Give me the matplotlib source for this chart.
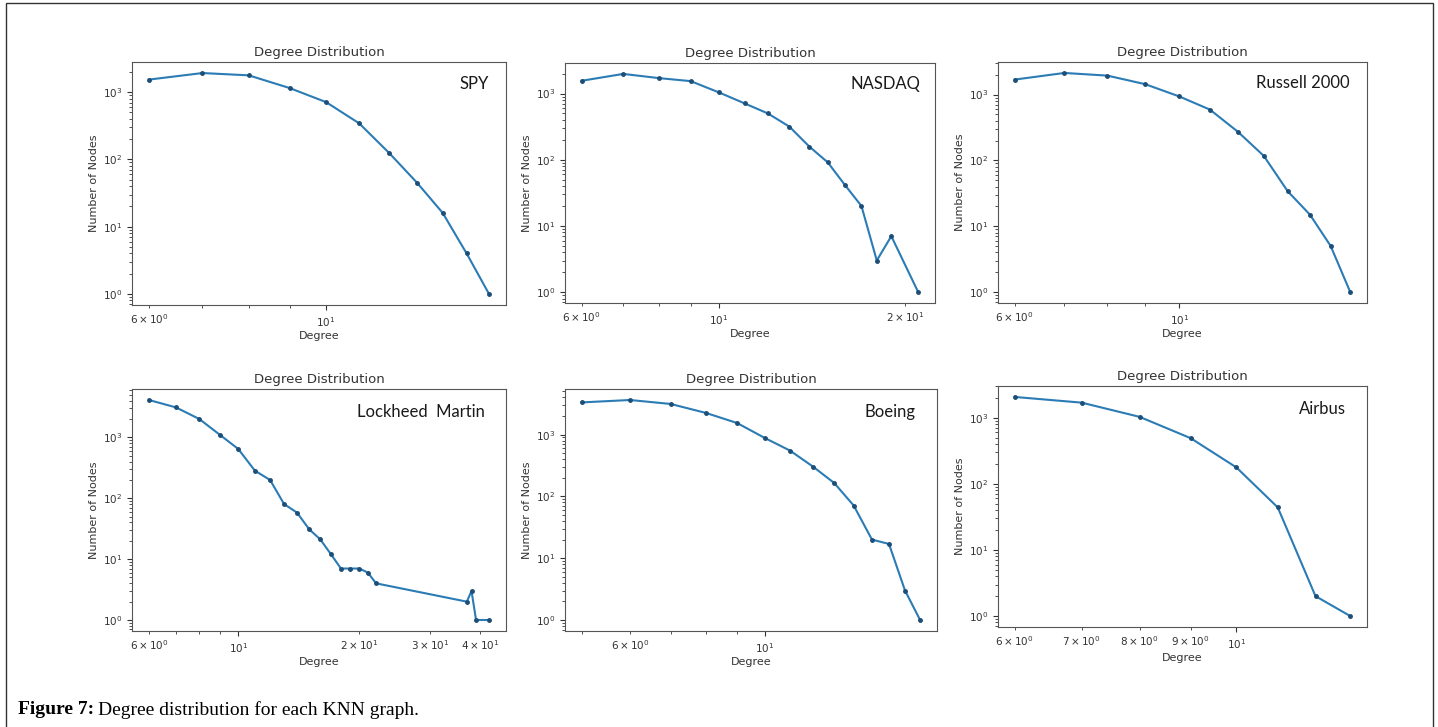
import matplotlib.pyplot as plt
from matplotlib.patches import Rectangle

# %% DATA
spy_deg = [6, 7, 8, 9, 10, 11, 12, 13, 14, 15, 16]
spy_nodes = [1535, 1920, 1775, 1150, 710, 344, 124, 45, 16, 4, 1]

nasdaq_deg = [6, 7, 8, 9, 10, 11, 12, 13, 14, 15, 16, 17, 18, 19, 21]
nasdaq_nodes = [1560, 1980, 1710, 1540, 1040, 710, 500, 316, 158, 91, 41, 20, 3, 7, 1]

russell_deg = [6, 7, 8, 9, 10, 11, 12, 13, 14, 15, 16, 17]
russell_nodes = [1690, 2130, 1940, 1436, 936, 590, 271, 117, 34, 15, 5, 1]

lockheed_deg = [6, 7, 8, 9, 10, 11, 12, 13, 14, 15, 16, 17, 18, 19, 20, 21, 22, 37, 38, 39, 42]
lockheed_nodes = [4100, 3100, 2000, 1100, 643, 283, 199, 80, 58, 31, 21, 12, 7, 7, 7, 6, 4, 2, 3, 1, 1]

boeing_deg = [5, 6, 7, 8, 9, 10, 11, 12, 13, 14, 15, 16, 17, 18]
boeing_nodes = [3320, 3630, 3130, 2240, 1540, 880, 550, 303, 165, 71, 20, 17, 3, 1]

airbus_deg = [6, 7, 8, 9, 10, 11, 12, 13]
airbus_nodes = [2060, 1690, 1030, 490, 177, 44, 2, 1]

names = ["SPY", "NASDAQ", "Russell 2000", "Lockheed  Martin", "Boeing", "Airbus"]
degrees = [spy_deg, nasdaq_deg, russell_deg, lockheed_deg, boeing_deg, airbus_deg]
counts = [spy_nodes, nasdaq_nodes, russell_nodes, lockheed_nodes, boeing_nodes, airbus_nodes]

# %% LAYOUT (pixel boxes of each axes: left, right, top, bottom)
W, H = 1438, 727
boxes = [
    (132, 506, 62, 305),
    (565, 935, 63, 303),
    (998, 1367, 62, 303),
    (132, 506, 389, 631),
    (565, 937, 389, 631),
    (998, 1367, 386, 627),
]
# where the name labels sit (pixels)
label_pos = [(460, 84), (851, 84), (1256, 83), (357, 412), (865, 412), (1299, 409)]

fig = plt.figure(figsize=(W / 100, H / 100), dpi=100)

# outer frame of the figure panel
fig.patches.append(Rectangle((6 / W, -0.01), (1433 - 6) / W, 1 - 3 / H + 0.01,
                             transform=fig.transFigure, fill=False,
                             edgecolor='#333333', linewidth=1.0))

for i in range(6):
    l, r, t, b = boxes[i]
    ax = fig.add_axes([l / W, 1 - b / H, (r - l) / W, (b - t) / H])
    ax.plot(degrees[i], counts[i], marker='.', color='#2b7bb5', linewidth=1.5,
            markersize=5, markerfacecolor='#1d4e78', markeredgecolor='#1d4e78')
    ax.set_xscale('log')
    ax.set_yscale('log')
    ax.set_title("Degree Distribution", fontsize=9.5, color='#333333', pad=4)
    ax.set_xlabel("Degree", fontsize=8, color='#333333', labelpad=2)
    ax.set_ylabel("Number of Nodes", fontsize=8, color='#333333', labelpad=3)
    ax.tick_params(which='both', labelsize=7.5, colors='#333333')
    for s in ax.spines.values():
        s.set_color('#555555')

    x, y = label_pos[i]
    fig.text(x / W, 1 - y / H, names[i], fontsize=12, family='Lato',
             color='#1a1a1a', ha='left', va='center')

# caption: bold part, then the rest right after it
cap_y = 1 - 710 / H
bold = fig.text(18 / W, cap_y, "Figure 7:", fontsize=14, family='Liberation Serif',
                fontweight='bold', ha='left', va='center')
fig.canvas.draw()
bb = bold.get_window_extent()
fig.text((bb.x1 + 4) / W, cap_y, "Degree distribution for each KNN graph.", fontsize=14,
         family='Liberation Serif', ha='left', va='center')

fig.savefig("out.png", dpi=100)
